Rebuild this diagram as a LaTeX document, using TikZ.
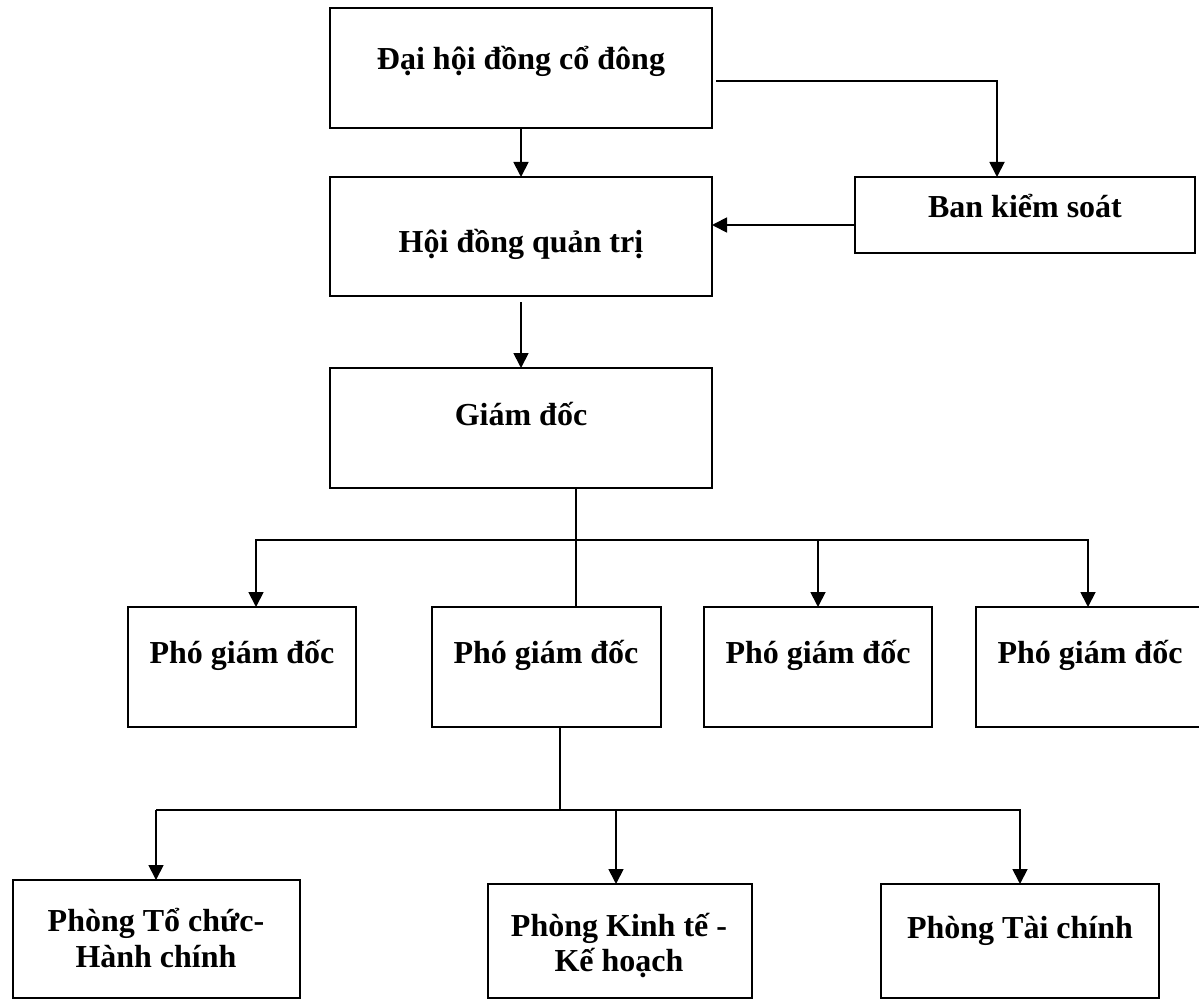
\documentclass[tikz,border=0pt]{standalone}
\usepackage{fontspec}
\setmainfont{Liberation Serif}
\usetikzlibrary{arrows.meta,fit,calc}
\begin{document}
\begin{tikzpicture}[x=0.5pt,y=-0.5pt,
  box/.style={draw, line width=0.9pt, inner sep=0pt, outer sep=0pt},
  lbl/.style={font=\fontsize{16}{18}\selectfont\bfseries, anchor=base, inner sep=0pt},
  conn/.style={line width=0.9pt},
  arr/.style={conn, -{Triangle[length=7.5pt,width=7.5pt]}},
  arrtwo/.style={conn, {Triangle[length=7.5pt,width=7.5pt]}-{Triangle[length=7.5pt,width=7.5pt]}}
]
\useasboundingbox (0,0) rectangle (1199,1000);

% boxes
\node[box, fit={(330,8) (712,128)}] (dhd) {};
\node[box, fit={(330,177) (712,296)}] (hdqt) {};
\node[box, fit={(855,177) (1195,253)}] (bks) {};
\node[box, fit={(330,368) (712,488)}] (gd) {};
\node[box, fit={(128,607) (356,727)}] (pgd1) {};
\node[box, fit={(432,607) (661,727)}] (pgd2) {};
\node[box, fit={(704,607) (932,727)}] (pgd3) {};
\node[box, fit={(976,607) (1212,727)}] (pgd4) {};
\node[box, fit={(13,880) (300,998)}] (tc) {};
\node[box, fit={(488,884) (752,998)}] (kt) {};
\node[box, fit={(881,884) (1159,998)}] (tcc) {};

% labels
\node[lbl] (dhdt) at (521,70) {Đại hội đồng cổ đông};
\node[lbl] (hdqtt) at (521,253) {Hội đồng quản trị};
\node[lbl] (bkst) at (1025,218) {Ban kiểm soát};
\node[lbl] (gdt) at (521,425) {Giám đốc};
\node[lbl] (pgd1t) at (242,663) {Phó giám đốc};
\node[lbl] (pgd2t) at (546,663) {Phó giám đốc};
\node[lbl] (pgd3t) at (818,663) {Phó giám đốc};
\node[lbl] (pgd4t) at (1090,663) {Phó giám đốc};
\node[lbl] (tct1) at (156,931) {Phòng Tổ chức-};
\node[lbl] (tct2) at (156,967) {Hành chính};
\node[lbl] (ktt1) at (619,936) {Phòng Kinh tế -};
\node[lbl] (ktt2) at (619,971) {Kế hoạch};
\node[lbl] (tcct) at (1020,938) {Phòng Tài chính};

% connectors
\draw[arr] (dhd.south) -- (hdqt.north);
\draw[arr] ($(dhd.east |- 0,81)+(4,0)$) -| (bks.north -| 997,0);
\draw[arr] (bks.west |- 0,225) -- (hdqt.east |- 0,225);
\draw[arr] ($(hdqt.south)+(0,6)$) -- (gd.north);

\coordinate (busL) at (256,540);
\coordinate (busR) at (1088,540);
\draw[conn] (gd.south -| 576,0) -- (pgd2.north -| 576,0);
\draw[arrtwo] (pgd1.north -| busL) -- (busL) -- (busR) -- (pgd4.north -| busR);
\draw[arr] (pgd3.north |- busL) -- (pgd3.north);

\coordinate (btwoM) at (560,810);
\coordinate (btwoL) at (156,810);
\coordinate (btwoR) at (1021,810);
\coordinate (ktin) at (616,810);
\draw[conn] (pgd2.south -| btwoM) -- (btwoM);
\draw[conn] (btwoL) -- (btwoR);
\draw[arr] (btwoL) -- (tc.north -| btwoL);
\draw[arr] (ktin) -- (kt.north -| ktin);
\draw[arr] (tcc.north |- btwoL) -- (tcc.north);
\end{tikzpicture}
\end{document}
